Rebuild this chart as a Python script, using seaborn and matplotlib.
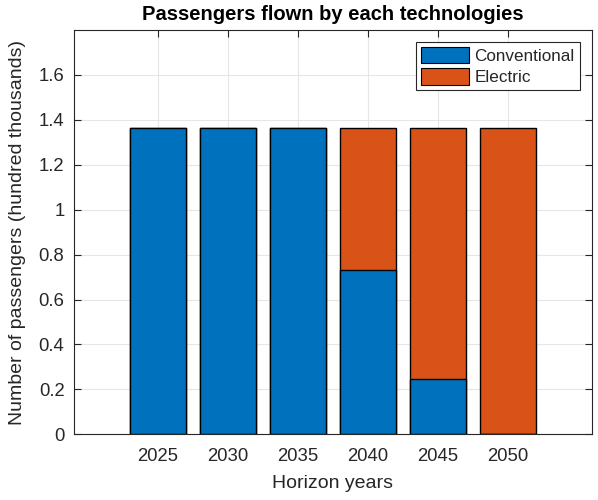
import matplotlib
matplotlib.use("Agg")
import matplotlib.pyplot as plt
from matplotlib.patches import Patch
import seaborn as sns
import pandas as pd

# Passenger volumes (hundred thousands) per horizon year and technology
years = [2025, 2030, 2035, 2040, 2045, 2050]
conventional = [1.363, 1.363, 1.363, 0.731, 0.246, 0.0]
electric = [0.0, 0.0, 0.0, 0.632, 1.117, 1.363]
y_ticks = [0, 0.2, 0.4, 0.6, 0.8, 1, 1.2, 1.4, 1.6]
y_tick_labels = ["0", "0.2", "0.4", "0.6", "0.8", "1", "1.2", "1.4", "1.6"]

BLUE = "#0072BD"
ORANGE = "#D95319"
AXIS = "#262626"

sns.set_theme(style="white")
plt.rcParams["font.family"] = ["Liberation Sans", "DejaVu Sans"]

df = pd.DataFrame({
    "year": years,
    "conventional": conventional,
    "electric": electric,
})
df["total"] = df["conventional"] + df["electric"]

fig = plt.figure(figsize=(5.98, 5.0), dpi=100)
ax = fig.add_axes([0.124, 0.1314, 0.8655, 0.8086])
ax.set_axisbelow(True)

# Stacked bars: full height in the electric colour, conventional share drawn over it
sns.barplot(data=df, x="year", y="total", native_scale=True, width=0.8,
            color=ORANGE, saturation=1, edgecolor="black", linewidth=1.0, ax=ax)
sns.barplot(data=df, x="year", y="conventional", native_scale=True, width=0.8,
            color=BLUE, saturation=1, edgecolor="black", linewidth=1.0, ax=ax)

ax.set_xlim(2019, 2056)
ax.set_ylim(0, 1.8)
ax.set_xticks(years)
ax.set_xticklabels([str(y) for y in years])
ax.set_yticks(y_ticks)
ax.set_yticklabels(y_tick_labels)

ax.grid(True, color="#e6e6e6", linewidth=0.8)
for s in ax.spines.values():
    s.set_visible(True)
    s.set_color(AXIS)
    s.set_linewidth(0.8)
ax.tick_params(direction="in", length=5, width=0.8, color=AXIS,
               labelsize=13.3, labelcolor=AXIS, top=True, right=True,
               bottom=True, left=True)
ax.tick_params(axis="x", pad=10)
ax.tick_params(axis="y", pad=7)

ax.set_xlabel("Horizon years", fontsize=14, color=AXIS, labelpad=7)
ax.set_ylabel("Number of passengers (hundred thousands)", fontsize=14,
              color=AXIS, labelpad=9)
ax.set_title("Passengers flown by each technologies", fontsize=14.5,
             fontweight="bold", color="black", pad=7)

handles = [Patch(facecolor=BLUE, edgecolor="black", linewidth=0.8, label="Conventional"),
           Patch(facecolor=ORANGE, edgecolor="black", linewidth=0.8, label="Electric")]
leg = ax.legend(handles=handles, loc="upper right", fontsize=12.3,
                frameon=True, fancybox=False, framealpha=1,
                edgecolor=AXIS, borderpad=0.3, handlelength=2.8,
                handleheight=1.1, handletextpad=0.3, labelspacing=0.25,
                borderaxespad=0.7)
leg.get_frame().set_linewidth(0.8)

fig.savefig("out.png", dpi=100)
